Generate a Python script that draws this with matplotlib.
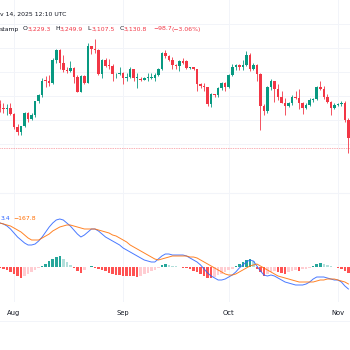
import matplotlib
matplotlib.use("Agg")
import matplotlib.pyplot as plt
import pandas as pd
import numpy as np

# ---------------- data ----------------
dates = pd.date_range("2025-07-28", "2025-11-04", freq="D")

opens = [3875, 3795, 3790, 3805, 3697, 3482, 3395, 3495, 3715, 3612,
         3680, 3910, 4010, 4260, 4255, 4220, 4600, 4770, 4550, 4440,
         4425, 4470, 4320, 4075, 4340, 4225, 4830, 4780, 4770, 4375,
         4600, 4510, 4505, 4365, 4370, 4390, 4305, 4325, 4450, 4300,
         4290, 4275, 4305, 4310, 4310, 4350, 4460, 4715, 4670, 4605,
         4525, 4500, 4590, 4590, 4470, 4480, 4450, 4200, 4165, 4150,
         3870, 4030, 4015, 4140, 4215, 4145, 4350, 4480, 4515, 4490,
         4515, 4690, 4460, 4525, 4370, 3840, 3750, 4150, 4245, 4125,
         3990, 3890, 3830, 3885, 3985, 3975, 3880, 3795, 3850, 3930,
         3950, 4160, 4120, 3985, 3905, 3805, 3845, 3875, 3890, 3600]
highs = [3940, 3880, 3860, 3880, 3720, 3540, 3500, 3740, 3730, 3725,
         3920, 4030, 4300, 4330, 4360, 4640, 4790, 4785, 4680, 4480,
         4590, 4480, 4360, 4360, 4350, 4880, 4840, 4956, 4790, 4620,
         4640, 4620, 4530, 4390, 4490, 4400, 4380, 4480, 4460, 4380,
         4320, 4320, 4380, 4380, 4380, 4470, 4730, 4770, 4690, 4660,
         4530, 4600, 4640, 4600, 4495, 4485, 4460, 4220, 4220, 4160,
         4050, 4040, 4150, 4240, 4230, 4370, 4530, 4530, 4530, 4600,
         4755, 4720, 4550, 4530, 4390, 3860, 4170, 4290, 4250, 4210,
         4090, 3960, 3900, 4010, 4090, 4120, 3900, 3880, 3970, 3960,
         4170, 4250, 4170, 4040, 3920, 3880, 3880, 3920, 3920, 3640]
lows = [3735, 3720, 3680, 3680, 3450, 3355, 3355, 3490, 3565, 3605,
        3650, 3885, 3990, 4150, 4170, 4200, 4550, 4450, 4410, 4380,
        4400, 4220, 4060, 4060, 4200, 4220, 4700, 4720, 4350, 4310,
        4480, 4460, 4260, 4300, 4350, 4210, 4260, 4300, 4260, 4140,
        4260, 4270, 4260, 4280, 4250, 4330, 4440, 4630, 4580, 4450,
        4445, 4420, 4545, 4450, 4460, 4440, 4090, 4140, 4080, 3830,
        3820, 3990, 3990, 4100, 4090, 4140, 4340, 4440, 4440, 4440,
        4500, 4420, 4430, 4250, 3435, 3680, 3710, 4100, 3900, 3930,
        3880, 3680, 3820, 3850, 3950, 3780, 3700, 3780, 3840, 3900,
        3940, 4100, 3950, 3880, 3680, 3780, 3830, 3840, 3570, 3055]
closes = [3795, 3790, 3805, 3697, 3482, 3395, 3495, 3715, 3612, 3680,
          3910, 4010, 4260, 4255, 4220, 4600, 4770, 4550, 4440, 4425,
          4470, 4320, 4075, 4340, 4225, 4830, 4780, 4770, 4375, 4600,
          4510, 4505, 4365, 4370, 4390, 4305, 4325, 4450, 4300, 4300,
          4275, 4305, 4310, 4310, 4350, 4460, 4715, 4670, 4605, 4525,
          4500, 4590, 4560, 4470, 4480, 4450, 4200, 4165, 4150, 3870,
          4030, 4015, 4140, 4215, 4145, 4350, 4480, 4515, 4490, 4515,
          4690, 4460, 4525, 4370, 3840, 3750, 4150, 4245, 4125, 3990,
          3890, 3830, 3885, 3985, 3975, 3880, 3795, 3850, 3930, 3950,
          4160, 4120, 3985, 3905, 3805, 3845, 3875, 3890, 3600, 3290]

macd = [440, 430, 410, 380, 340, 300, 270, 240, 220, 220,
        230, 260, 300, 350, 400, 440, 470, 480, 470, 440,
        410, 370, 330, 300, 320, 350, 380, 380, 360, 330,
        300, 280, 260, 240, 220, 190, 170, 150, 130, 110,
        90, 70, 60, 50, 50, 80, 110, 130, 130, 120,
        120, 120, 120, 110, 90, 70, 50, 20, -20, -60,
        -90, -110, -130, -130, -120, -100, -80, -50, -10, 20,
        50, 70, 60, 10, -40, -80, -90, -80, -90, -110,
        -130, -150, -160, -170, -180, -180, -180, -170, -150, -120,
        -100, -100, -100, -110, -120, -130, -130, -150, -190, -220]
signal = [440, 430, 420, 410, 390, 370, 350, 320, 290, 270,
          270, 270, 290, 310, 330, 360, 380, 400, 410, 420,
          420, 410, 400, 390, 380, 380, 380, 380, 370, 360,
          350, 340, 320, 310, 290, 270, 250, 220, 200, 180,
          160, 140, 120, 100, 80, 70, 80, 90, 100, 110,
          110, 110, 110, 110, 100, 100, 90, 70, 50, 30,
          10, -10, -30, -50, -70, -80, -80, -70, -50, -30,
          -10, 10, 20, 30, 10, -10, -30, -50, -70, -90,
          -100, -110, -120, -130, -140, -150, -150, -150, -150, -150,
          -140, -130, -130, -120, -120, -120, -130, -140, -150, -170]
hist = [-10, -15, -30, -50, -70, -90, -110, -90, -70, -50,
        -30, -10, 15, 30, 60, 80, 100, 110, 80, 50,
        20, -10, -35, -60, -30, 5, 10, -5, -20, -30,
        -40, -55, -65, -75, -80, -85, -90, -90, -90, -95,
        -90, -70, -55, -40, -25, -10, 20, 30, 25, 15,
        10, 5, -5, -10, -20, -35, -50, -70, -90, -105,
        -110, -95, -80, -65, -50, -30, -15, 10, 30, 50,
        70, 85, 60, -20, -50, -90, -70, -50, -40, -50,
        -60, -65, -50, -40, -30, -35, -20, -15, -5, 15,
        30, 40, 30, 20, 10, 5, -5, -15, -35, -55]

month_ticks = ["2025-08-01", "2025-09-01", "2025-10-01", "2025-11-01"]
month_labels = ["Aug", "Sep", "Oct", "Nov"]
grid_prices = [3200, 3600, 4000, 4400, 4800, 5200]
last_price = 3130.8

header_time = "v 14, 2025 12:10 UTC"
ohlc_labels = ["O", "H", "L", "C"]
ohlc_values = ["3,229.3", "3,249.9", "3,107.5", "3,130.8"]
change_text = ["\u221298.7", "(\u22123.06%)"]
macd_label_vals = ["3.4", "\u2212167.8"]

# ---------------- style ----------------
UP = "#089981"
DOWN = "#f23645"
GRID = "#f2f4f9"
TXT = "#131722"
W, H = 350, 350

fig = plt.figure(figsize=(3.5, 3.5), dpi=100)
fig.patch.set_facecolor("white")

def frac_y(px):
    return 1 - px / H

x0 = pd.Timestamp("2025-08-01") - pd.Timedelta(days=3.98)
x1 = pd.Timestamp("2025-08-01") + pd.Timedelta(days=95.45)

ax = fig.add_axes([0, frac_y(190), 1, 190 / H])
axm = fig.add_axes([0, frac_y(302), 1, 112 / H])

for a in (ax, axm):
    a.set_facecolor("white")
    for s in a.spines.values():
        s.set_visible(False)
    a.set_xlim(x0, x1)
    a.set_xticks(pd.to_datetime(month_ticks))
    a.tick_params(length=0)
    a.grid(True, color=GRID, lw=0.7)
    a.set_axisbelow(True)

# main candles
o = np.array(opens, float); c = np.array(closes, float)
hi = np.array(highs, float); lo = np.array(lows, float)
cols = [UP if cc >= oo else DOWN for oo, cc in zip(o, c)]
ax.vlines(dates, lo, hi, colors=cols, lw=0.6, zorder=2)
body_bottom = np.minimum(o, c)
body_h = np.maximum(np.abs(c - o), 12)
ax.bar(dates, body_h, bottom=body_bottom, width=0.72, color=cols, lw=0, zorder=3)
ax.set_ylim(2428, 5608)
ax.set_yticks(grid_prices)
ax.set_yticklabels([])
ax.set_xticklabels([])
ax.axhline(last_price, color=DOWN, lw=0.5, ls=(0, (1, 1.5)), alpha=0.8, zorder=4)

# MACD pane
hcols = []
prev = 0
for v in hist:
    if v >= 0:
        hcols.append("#26a69a" if v >= prev else "#b2dfdb")
    else:
        hcols.append("#ff5252" if v <= prev else "#ffcdd2")
    prev = v
axm.bar(dates, hist, width=0.72, color=hcols, lw=0, zorder=2)
axm.plot(dates, macd, color="#2962ff", lw=0.7, alpha=0.85, zorder=3)
axm.plot(dates, signal, color="#ff6d00", lw=0.7, alpha=0.85, zorder=3)
axm.set_ylim(-350, 770)
axm.set_yticks([])
axm.set_xticklabels(month_labels, fontsize=4.9, color=TXT)
axm.tick_params(axis="x", pad=6)
axm.axhline(740, color=GRID, lw=0.8)

# header texts
fs = 4.4
fig.text(0 / W, frac_y(14), header_time, fontsize=fs, color=TXT, va="center", ha="left")
fig.text(0 / W, frac_y(29), "stamp", fontsize=fs, color=TXT, va="center", ha="left")
lab_x = [23, 55, 87.5, 119.5]
val_x = [27.5, 59.5, 91.5, 123.5]
for lx, vx, lb, vv in zip(lab_x, val_x, ohlc_labels, ohlc_values):
    fig.text(lx / W, frac_y(29), lb, fontsize=fs, color=TXT, va="center", ha="left")
    fig.text(vx / W, frac_y(29), vv, fontsize=fs, color=DOWN, va="center", ha="left")
fig.text(153 / W, frac_y(29), change_text[0], fontsize=fs, color=DOWN, va="center", ha="left")
fig.text(172 / W, frac_y(29), change_text[1], fontsize=fs, color=DOWN, va="center", ha="left")

fig.text(0.5 / W, frac_y(219), macd_label_vals[0], fontsize=fs, color="#2962ff", va="center", ha="left")
fig.text(13 / W, frac_y(219), macd_label_vals[1], fontsize=fs, color="#ff6d00", va="center", ha="left")

# bottom separator of time axis
fig.add_artist(plt.Line2D([0, 1], [frac_y(321), frac_y(321)], color=GRID, lw=0.7))

fig.savefig("out.png", dpi=100, facecolor="white")
